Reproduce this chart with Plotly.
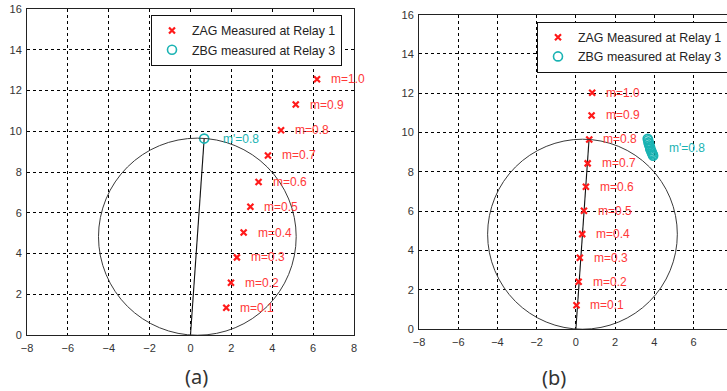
import plotly.graph_objects as go

# ---------------- data ----------------
m_labels = ["m=0.1", "m=0.2", "m=0.3", "m=0.4", "m=0.5",
            "m=0.6", "m=0.7", "m=0.8", "m=0.9", "m=1.0"]

# (a) ZAG measured at relay 1
zag_a_x = [1.75, 1.98, 2.27, 2.60, 2.93, 3.33, 3.79, 4.43, 5.15, 6.19]
zag_a_y = [1.34, 2.56, 3.81, 5.03, 6.29, 7.51, 8.81, 10.05, 11.31, 12.55]
# (a) ZBG measured at relay 3
zbg_a_x = [0.67]
zbg_a_y = [9.64]

# (b) ZAG measured at relay 1
zag_b_x = [0.03, 0.14, 0.20, 0.32, 0.41, 0.51, 0.60, 0.68, 0.80, 0.83]
zag_b_y = [1.21, 2.41, 3.63, 4.83, 6.02, 7.24, 8.43, 9.65, 10.87, 12.03]
# (b) ZBG measured at relay 3 (cluster)
zbg_b_x = [3.66, 3.69, 3.70, 3.73, 3.74, 3.78, 3.79, 3.82, 3.86, 3.88, 3.92, 3.94]
zbg_b_y = [9.68, 9.61, 9.50, 9.44, 9.35, 9.27, 9.18, 9.10, 9.02, 8.95, 8.88, 8.82]

# mho characteristic: reach point (diameter from origin)
reach_x = [0.0, 0.67]
reach_y = [0.0, 9.65]

prime_label = "m'=0.8"
panel_labels = ["(a)", "(b)"]

RED = "#ff1a1a"
RED_TXT = "#ff3838"
CYAN = "#1ab3b3"
FONT = "Liberation Sans"

W, H = 727, 391
# plot areas in pixels (left, right, top, bottom)
area_a = (27, 354, 9, 335)
area_b = (419, 727, 14.7, 329)

def dom(area):
    l, r, t, b = area
    return [l / W, r / W], [(H - b) / H, (H - t) / H]

xd_a, yd_a = dom(area_a)
xd_b, yd_b = dom(area_b)

fig = go.Figure()

def add_panel(xa, ya, zx, zy, bx, by, legend):
    # reach line
    fig.add_trace(go.Scatter(x=reach_x, y=reach_y, mode="lines",
                             line=dict(color="#111111", width=1.1),
                             xaxis=xa, yaxis=ya, showlegend=False, hoverinfo="skip"))
    fig.add_trace(go.Scatter(x=zx, y=zy, mode="markers", name="ZAG Measured at Relay 1",
                             marker=dict(symbol="x-thin-open", size=6,
                                         line=dict(color=RED, width=2.2), color=RED),
                             xaxis=xa, yaxis=ya, legend=legend, cliponaxis=False))
    fig.add_trace(go.Scatter(x=bx, y=by, mode="markers", name="ZBG measured at Relay 3",
                             marker=dict(symbol="circle-open", size=9,
                                         line=dict(color=CYAN, width=1.6), color=CYAN),
                             xaxis=xa, yaxis=ya, legend=legend, cliponaxis=False))

add_panel("x", "y", zag_a_x, zag_a_y, zbg_a_x, zbg_a_y, "legend")
add_panel("x2", "y2", zag_b_x, zag_b_y, zbg_b_x, zbg_b_y, "legend2")

annotations = []
for xr, yr, zx, zy in (("x", "y", zag_a_x, zag_a_y), ("x2", "y2", zag_b_x, zag_b_y)):
    for xv, yv, t in zip(zx, zy, m_labels):
        annotations.append(dict(x=xv, y=yv, xref=xr, yref=yr, text=t, showarrow=False,
                                xanchor="left", xshift=12,
                                font=dict(family=FONT, size=12, color=RED_TXT)))

annotations.append(dict(x=zbg_a_x[0], y=zbg_a_y[0], xref="x", yref="y", text=prime_label,
                        showarrow=False, xanchor="left", xshift=17,
                        font=dict(family=FONT, size=12, color=CYAN)))
annotations.append(dict(x=sum(zbg_b_x) / len(zbg_b_x), y=sum(zbg_b_y) / len(zbg_b_y),
                        xref="x2", yref="y2", text=prime_label,
                        showarrow=False, xanchor="left", xshift=17,
                        font=dict(family=FONT, size=12, color=CYAN)))

annotations.append(dict(x=183 / W, y=0, xref="paper", yref="paper", yanchor="bottom",
                        yshift=-1, text=panel_labels[0], showarrow=False,
                        font=dict(family="Noto Sans", size=20, color="#333333")))
annotations.append(dict(x=568 / W, y=0, xref="paper", yref="paper", yanchor="bottom",
                        yshift=-2, text=panel_labels[1], showarrow=False,
                        font=dict(family="Noto Sans", size=20, color="#333333")))

# mho circles
cx = (reach_x[0] + reach_x[1]) / 2
cy = (reach_y[0] + reach_y[1]) / 2
r = ((reach_x[1] - reach_x[0]) ** 2 + (reach_y[1] - reach_y[0]) ** 2) ** 0.5 / 2
shapes = []
for xr, yr in (("x", "y"), ("x2", "y2")):
    shapes.append(dict(type="circle", xref=xr, yref=yr,
                       x0=cx - r, x1=cx + r, y0=cy - r, y1=cy + r,
                       line=dict(color="#3a3a3a", width=1), layer="above"))

tickvals = [-8, -6, -4, -2, 0, 2, 4, 6, 8]
ytickvals = [0, 2, 4, 6, 8, 10, 12, 14, 16]

def xax(domain, rng, anchor, mirror):
    return dict(domain=domain, range=rng, anchor=anchor, tickvals=tickvals,
                showgrid=True, gridcolor="#000000", gridwidth=1, griddash="3px,3px",
                zeroline=False, showline=True, linecolor="#222222", linewidth=1,
                mirror=mirror, ticks="", ticklabelstandoff=3, automargin=False,
                tickfont=dict(family=FONT, size=11, color="#333333"), fixedrange=True)

def yax(domain, anchor, mirror):
    return dict(domain=domain, range=[0, 16], anchor=anchor, tickvals=ytickvals,
                showgrid=True, gridcolor="#000000", gridwidth=1, griddash="3px,3px",
                zeroline=False, showline=True, linecolor="#222222", linewidth=1,
                mirror=mirror, ticks="", ticklabelstandoff=2, automargin=False,
                tickfont=dict(family=FONT, size=11, color="#333333"), fixedrange=True)

leg_common = dict(xanchor="left", yanchor="top", bgcolor="white",
                  xref="container", yref="container",
                  bordercolor="#111111", borderwidth=1,
                  font=dict(family=FONT, size=12.4, color="#222222"),
                  tracegroupgap=0)

fig.update_layout(
    width=W, height=H,
    margin=dict(l=0, r=0, t=0, b=0, pad=0, autoexpand=False),
    paper_bgcolor="white", plot_bgcolor="white",
    showlegend=True,
    xaxis=xax(xd_a, [-8, 8], "y", True),
    yaxis=yax(yd_a, "x", True),
    xaxis2=xax(xd_b, [-8, (727 - 576) / 19.6], "y2", True),
    yaxis2=yax(yd_b, "x2", False),
    legend=dict(x=151 / W, y=(H - 15) / H, **leg_common),
    legend2=dict(x=537 / W, y=(H - 21.7) / H, **leg_common),
    annotations=annotations,
    shapes=shapes,
)

fig.write_html("out.html",
               config={"displayModeBar": False},
               post_script="document.body.style.margin='0';document.body.style.overflow='hidden';")
